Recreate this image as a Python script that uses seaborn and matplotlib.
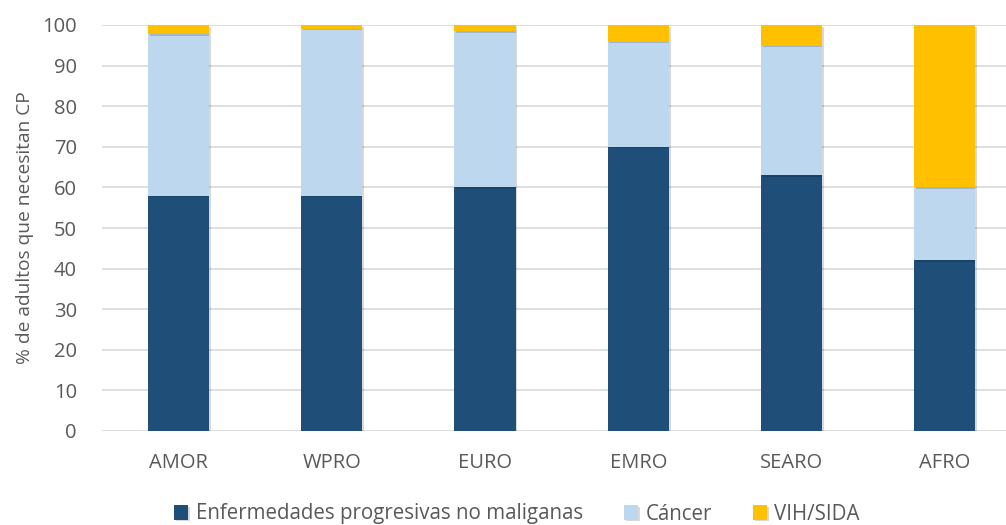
import matplotlib
matplotlib.use("Agg")
import matplotlib.pyplot as plt
import matplotlib.patheffects as pe
import seaborn as sns
import numpy as np
import pandas as pd

regions = ["AMOR", "WPRO", "EURO", "EMRO", "SEARO", "AFRO"]
no_malignas = [58, 58, 60, 70, 63, 42]
cancer = [39.8, 41.1, 38.4, 25.9, 31.9, 18]
vih = [2.2, 0.9, 1.6, 4.1, 5.1, 40]
series_names = ["Enfermedades progresivas no maliganas", "Cáncer", "VIH/SIDA"]
colors = ["#1F4E79", "#BDD7EE", "#FFC000"]
yticks = list(range(0, 101, 10))

sns.set_theme(style="white")
plt.rcParams['font.family'] = ['Open Sans', 'DejaVu Sans']

fig = plt.figure(figsize=(10.06, 5.25), dpi=100)
ax = fig.add_axes([102/1006, 1-431/525, 1-102/1006, (431-25)/525])

df = pd.DataFrame({"region": regions, "a": no_malignas, "b": cancer, "c": vih})
bottoms = np.zeros(len(regions))
shadow = [pe.SimplePatchShadow(offset=(1.2, -1.2), shadow_rgbFace="#000000", alpha=0.15), pe.Normal()]
for col, name, color in zip(["a", "b", "c"], series_names, colors):
    sns.barplot(data=df, x="region", y=col, bottom=bottoms, color=color, width=0.4,
                label=name, ax=ax, saturation=1, linewidth=0, zorder=3, legend=False)
    bottoms = bottoms + df[col].values

for p in ax.patches:
    p.set_path_effects(shadow)

ax.set_ylim(0, 100)
ax.set_xlim(-0.5, 5.4)
ax.set_yticks(yticks)
ax.yaxis.grid(True, color="#D9D9D9", linewidth=1.2, zorder=0)
ax.set_axisbelow(True)
for s in ax.spines.values():
    s.set_visible(False)
ax.tick_params(axis="both", length=0, labelsize=14.5, colors="#595959")
ax.tick_params(axis="x", pad=16)
ax.tick_params(axis="y", pad=18)
ax.set_xlabel("")
ax.set_ylabel("% de adultos que necesitan CP", fontsize=13.8, color="#595959", labelpad=6)

handles, labels = ax.get_legend_handles_labels()
if ax.get_legend() is not None:
    ax.get_legend().remove()
leg = fig.legend(handles, labels, loc="center", bbox_to_anchor=(517/1006, 1-514/525), ncol=3,
                 frameon=False, fontsize=14.8, handlelength=0.7, handleheight=0.7,
                 handletextpad=0.35, columnspacing=2.0)
for t in leg.get_texts():
    t.set_color("#595959")

fig.savefig("out.png", dpi=100)
